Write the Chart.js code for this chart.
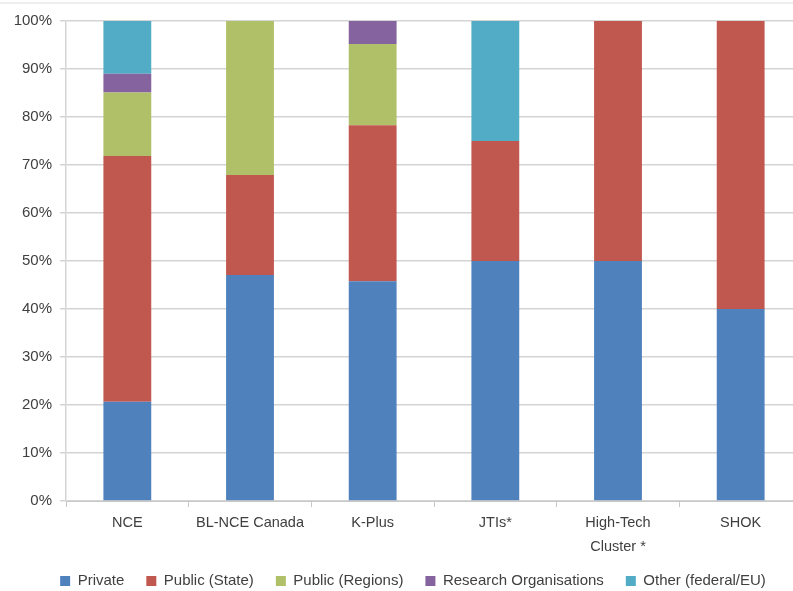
<!DOCTYPE html>
<html>
<head>
<meta charset="utf-8">
<script src="https://cdn.jsdelivr.net/npm/chart.js@4.4.1/dist/chart.umd.min.js"></script>
<style>
  html, body { margin: 0; padding: 0; background: #fff; overflow: hidden; }
  #wrap { position: relative; width: 802px; height: 591px; overflow: hidden; }
  #topline { position: absolute; left: 0; top: 2px; width: 802px; height: 2px; background: #eeeeee; }
</style>
</head>
<body>
<div id="wrap">
  <div id="topline"></div>
  <canvas id="c" width="802" height="601"></canvas>
</div>
<script>
// Funding shares by programme (percent of total)
const categories = ['NCE', 'BL-NCE Canada', 'K-Plus', 'JTIs*', ['High-Tech', 'Cluster *'], 'SHOK'];
const privateShare   = [20.7, 47.1, 45.8, 50, 50, 40];
const publicState    = [51.2, 20.8, 32.5, 25, 50, 60];
const publicRegions  = [13.2, 32.1, 16.9, 0, 0, 0];
const researchOrgs   = [3.9, 0, 4.8, 0, 0, 0];
const otherFederalEU = [11.0, 0, 0, 25, 0, 0];
const yTicks = [0, 10, 20, 30, 40, 50, 60, 70, 80, 90, 100];

const FONT = "'Liberation Sans', Arial, sans-serif";
const TEXT = '#404040';
const PLOT_BOTTOM = 501;
const LEGEND_Y = 581;
const LEGEND_SHIFT_X = 12;

function ds(label, data, color) {
  return {
    label, data,
    backgroundColor: color,
    borderColor: color,
    borderWidth: 0,
    barPercentage: 0.39,
    categoryPercentage: 1.0
  };
}

// Places the legend row at its baseline under the axis labels
const legendRow = {
  id: 'legendRow',
  afterLayout(chart) {
    const lg = chart.legend;
    if (!lg) return;
    const lo = lg.options.labels;
    const pad = lo.padding;
    const itemH = Math.max(lo.font.size, lo.boxHeight);
    const h = lg.height;
    lg.top = LEGEND_Y - pad - itemH / 2;
    lg.bottom = lg.top + h;
    lg.left += LEGEND_SHIFT_X;
    lg.right += LEGEND_SHIFT_X;
  }
};

new Chart(document.getElementById('c'), {
  type: 'bar',
  data: {
    labels: categories,
    datasets: [
      ds('Private', privateShare, '#4f81bd'),
      ds('Public (State)', publicState, '#c0584f'),
      ds('Public (Regions)', publicRegions, '#b0c068'),
      ds('Research Organisations', researchOrgs, '#85639e'),
      ds('Other (federal/EU)', otherFederalEU, '#52acc6')
    ]
  },
  plugins: [legendRow],
  options: {
    responsive: false,
    animation: false,
    devicePixelRatio: 1,
    layout: { padding: { top: 21, right: 0, left: 0, bottom: 0 } },
    plugins: {
      tooltip: { enabled: false },
      legend: {
        position: 'bottom',
        labels: {
          font: { family: FONT, size: 15 },
          color: TEXT,
          boxWidth: 10,
          boxHeight: 10,
          padding: 22
        }
      }
    },
    scales: {
      x: {
        stacked: true,
        afterFit: (s) => {
          const lh = s.chart.legend ? s.chart.legend.height : 0;
          s.height = Math.max(0, 601 - PLOT_BOTTOM - lh);
        },
        grid: {
          offset: true,
          drawOnChartArea: false,
          drawTicks: true,
          tickLength: 6,
          color: '#c8c8c8'
        },
        border: { color: '#c8c8c8', width: 1 },
        ticks: {
          font: { family: FONT, size: 14.5, lineHeight: 1.65 },
          color: TEXT,
          padding: 4,
          maxRotation: 0,
          autoSkip: false
        }
      },
      y: {
        stacked: true,
        min: 0,
        max: 100,
        afterFit: (s) => { s.width = 66; },
        afterBuildTicks: (s) => { s.ticks = yTicks.map(v => ({ value: v })); },
        grid: {
          color: '#d4d4d4',
          lineWidth: 1.5,
          drawTicks: true,
          tickLength: 6
        },
        border: { color: '#d4d4d4', width: 1.5 },
        ticks: {
          font: { family: FONT, size: 15 },
          color: TEXT,
          padding: 8,
          callback: (v) => v + '%'
        }
      }
    }
  }
});
</script>
</body>
</html>
